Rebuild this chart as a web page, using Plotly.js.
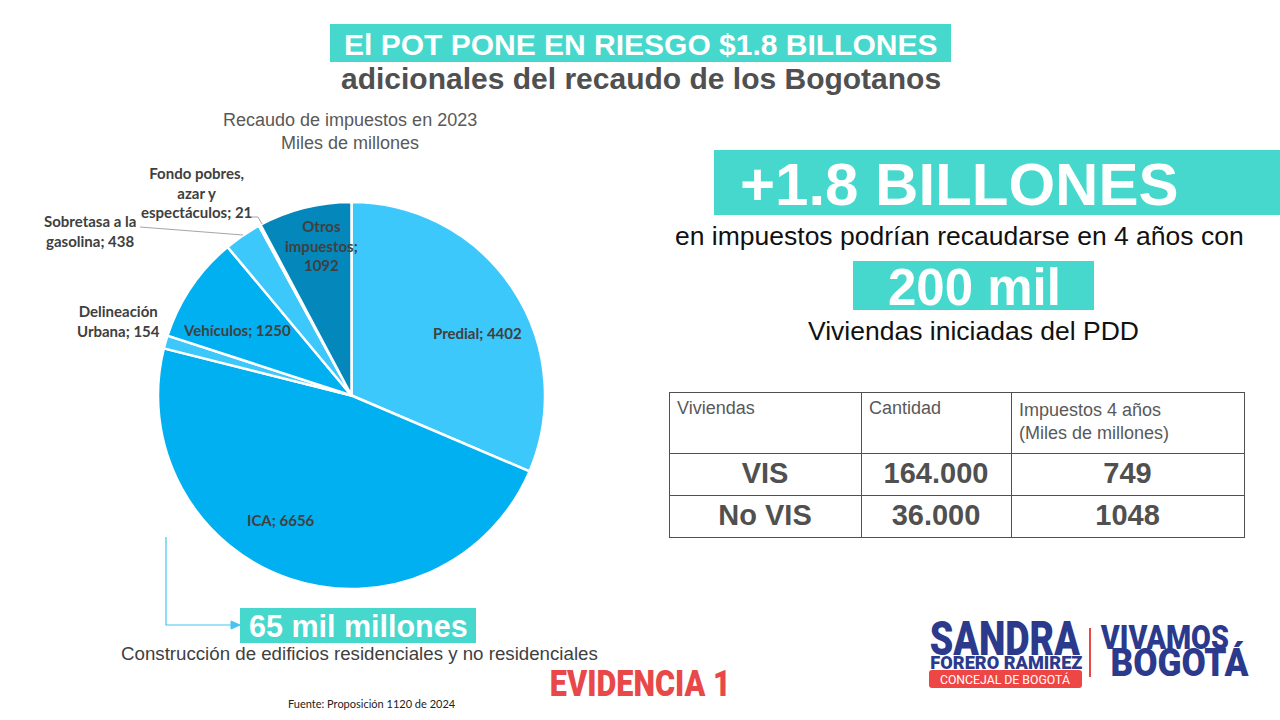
<!DOCTYPE html>
<html>
<head>
<meta charset="utf-8">
<script src="https://cdn.plot.ly/plotly-3.0.1.min.js"></script>
<style>
  html, body { margin: 0; padding: 0; background: #ffffff; }
  #chart { width: 1280px; height: 720px; }
</style>
</head>
<body>
<div id="chart"></div>
<script>
// ---- Data ----
const taxLabels = ["Predial", "ICA", "Delineación Urbana", "Vehículos", "Sobretasa a la gasolina", "Fondo pobres, azar y espectáculos", "Otros impuestos"];
const taxValues = [4402, 6656, 154, 1250, 438, 21, 1092];
// how each slice label is wrapped on the chart
const labelWrapped = ["Predial; ", "ICA; ", "Delineación<br>Urbana; ", "Vehículos; ", "Sobretasa a la<br>gasolina; ", "Fondo pobres,<br>azar y<br>espectáculos; ", "Otros<br>impuestos;<br>"];
const sliceColors = ["#3DC8FC", "#00B0F0", "#3DC8FC", "#00B0F0", "#3DC8FC", "#00B0F0", "#0487BB"];

const tableHeader = ["Viviendas", "Cantidad", "Impuestos 4 años<br>(Miles de millones)"];
const tableTipo = ["VIS", "No VIS"];
const tableCantidad = ["164.000", "36.000"];
const tableImpuestos = ["749", "1048"];

// ---- helpers (pixel -> paper) ----
const W = 1280, H = 720;
const px = x => x / W;
const py = y => 1 - y / H;

const TEAL = "#46D8CC";
const NAVY = "#2B3A8C";
const RED = "#E84848";
const ARIAL = "Liberation Sans, Arial, sans-serif";
const COND = "Roboto, Liberation Sans, sans-serif";

const pie = {
  type: "pie",
  labels: taxLabels,
  values: taxValues,
  textinfo: "none",
  sort: false,
  direction: "clockwise",
  rotation: 0,
  marker: { colors: sliceColors, line: { color: "#ffffff", width: 2.5 } },
  hoverinfo: "label+value",
  showlegend: false,
  domain: { x: [px(158), px(545)], y: [py(589), py(202)] }
};

const table = {
  type: "table",
  domain: { x: [px(669), px(1244)], y: [py(540), py(392)] },
  columnwidth: [192, 150, 233],
  header: {
    values: tableHeader,
    align: "left",
    height: 61,
    fill: { color: "#ffffff" },
    line: { color: "#505050", width: 1 },
    font: { family: ARIAL, size: 18, color: "#595959" }
  },
  cells: {
    values: [tableTipo, tableCantidad, tableImpuestos],
    align: "center",
    height: 42,
    fill: { color: "#ffffff" },
    line: { color: "#505050", width: 1 },
    font: { family: ARIAL, size: 29, color: "#505050", weight: 700 }
  }
};

const ann = (x, y, text, size, color, opts = {}) => Object.assign({
  xref: "paper", yref: "paper", x: px(x), y: py(y), text: text, showarrow: false,
  xanchor: "center", yanchor: "middle",
  font: { family: ARIAL, size: size, color: color }
}, opts);
const bold = (fam, size, color, w) => ({ family: fam, size: size, color: color, weight: w || 700 });

const lblFont = { family: "Lato, sans-serif", size: 15, color: "#404040", weight: 700 };
// label anchor positions (pixels) for each slice label, in slice order
const labelPos = [[477, 333], [281, 520], [118, 321], [237, 330], [90, 231], [196, 193], [321, 245]];
const sliceLabelAnns = taxValues.map((v, i) =>
  ann(labelPos[i][0], labelPos[i][1], labelWrapped[i] + v, 15, "#404040", { font: lblFont }));

const annotations = [
  ann(640, 44, "El POT PONE EN RIESGO $1.8 BILLONES", 30, "#fff", { font: bold(ARIAL, 30, "#ffffff") }),
  ann(641, 78, "adicionales del recaudo de los Bogotanos", 30, "#505050", { font: bold(ARIAL, 30, "#505050") }),
  ann(350, 131, "Recaudo de impuestos en 2023<br>Miles de millones", 18, "#595959"),
  ...sliceLabelAnns,
  ann(959, 184, "+1.8 BILLONES", 60, "#fff", { font: bold(ARIAL, 60, "#ffffff") }),
  ann(959, 236, "en impuestos podrían recaudarse en 4 años con", 26.5, "#111111"),
  ann(974, 287, "200 mil", 51, "#fff", { font: bold(ARIAL, 51, "#ffffff") }),
  ann(973, 331, "Viviendas iniciadas del PDD", 26.5, "#111111"),
  ann(358, 626, "65 mil millones", 30.5, "#fff", { font: bold(ARIAL, 30.5, "#ffffff") }),
  ann(359, 653, "Construcción de edificios residenciales y no residenciales", 18.7, "#404040"),
  ann(372, 703, "Fuente: Proposición 1120 de 2024", 11, "#222", { font: { family: "Lato, sans-serif", size: 11, color: "#222222" } }),
  ann(640, 684, "EVIDENCIA 1", 36, RED, { font: bold(COND, 36, RED, 900), name: "w181" }),
  ann(1005, 638, "SANDRA", 48, NAVY, { font: bold(COND, 48, NAVY, 900), name: "w150" }),
  ann(1006, 662, "FORERO RAMÍREZ", 18, NAVY, { font: bold(COND, 18, NAVY, 900), name: "w152" }),
  ann(1005, 679, "CONCEJAL DE BOGOTÁ", 13, "#fff", { font: { family: COND, size: 13, color: "#ffffff" }, name: "w130" }),
  ann(1164, 637, "VIVAMOS", 34, NAVY, { font: bold(COND, 34, NAVY, 900), name: "w128" }),
  ann(1179, 663, "BOGOTÁ", 38, NAVY, { font: bold(COND, 38, NAVY, 900), name: "w138" })
];

const rect = (x0, y0, x1, y1, color) => ({
  type: "rect", xref: "paper", yref: "paper", layer: "below",
  x0: px(x0), x1: px(x1), y0: py(y1), y1: py(y0),
  fillcolor: color, line: { width: 0 }
});
const pth = (d, color, width, fill) => ({
  type: "path", xref: "paper", yref: "paper", path: d, layer: "above",
  line: { color: color, width: width }, fillcolor: fill || "rgba(0,0,0,0)"
});
const P = (x, y) => px(x).toFixed(5) + "," + py(y).toFixed(5);

const shapes = [
  rect(330, 24, 951, 62, TEAL),
  rect(714, 150, 1280, 215, TEAL),
  rect(853, 261, 1094, 310, TEAL),
  rect(240, 608, 476, 643, TEAL),
  { type: "path", xref: "paper", yref: "paper", layer: "below",
    path: "M" + P(932, 670) + " L" + P(1079, 670) + " Q" + P(1082, 670) + " " + P(1082, 673) + " L" + P(1082, 685) + " Q" + P(1082, 688) + " " + P(1079, 688) +
          " L" + P(932, 688) + " Q" + P(929, 688) + " " + P(929, 685) + " L" + P(929, 673) + " Q" + P(929, 670) + " " + P(932, 670) + " Z",
    fillcolor: "#EE4545", line: { width: 0 } },
  { type: "line", xref: "paper", yref: "paper", x0: px(1090), x1: px(1090), y0: py(628), y1: py(677), line: { color: RED, width: 2 } },
  pth("M" + P(140, 227) + " L" + P(243, 235), "#A6A6A6", 1),
  pth("M" + P(251, 217) + " L" + P(258, 217) + " L" + P(262, 224), "#A6A6A6", 1),
  pth("M" + P(166, 537) + " L" + P(166, 625) + " L" + P(232, 625), "#45C3F2", 1.2),
  pth("M" + P(231, 621) + " L" + P(240, 625) + " L" + P(231, 629) + " Z", "#45C3F2", 1, "#45C3F2")
];

const layout = {
  width: W, height: H,
  margin: { l: 0, r: 0, t: 0, b: 0 },
  paper_bgcolor: "#ffffff",
  plot_bgcolor: "#ffffff",
  showlegend: false,
  annotations: annotations,
  shapes: shapes
};

Plotly.newPlot("chart", [pie, table], layout, { displayModeBar: false, staticPlot: true }).then(gd => {
  // condense the logo-style texts to their target widths
  const targets = {};
  annotations.forEach((a, i) => { if (a.name) targets[i] = parseFloat(a.name.slice(1)); });
  gd.querySelectorAll(".annotation").forEach(g => {
    const idx = parseInt(g.getAttribute("data-index"), 10);
    if (targets[idx] !== undefined) {
      const t = g.querySelector("text.annotation-text");
      if (t) {
        t.setAttribute("textLength", targets[idx]);
        t.setAttribute("lengthAdjust", "spacingAndGlyphs");
      }
    }
  });
});
</script>
</body>
</html>
